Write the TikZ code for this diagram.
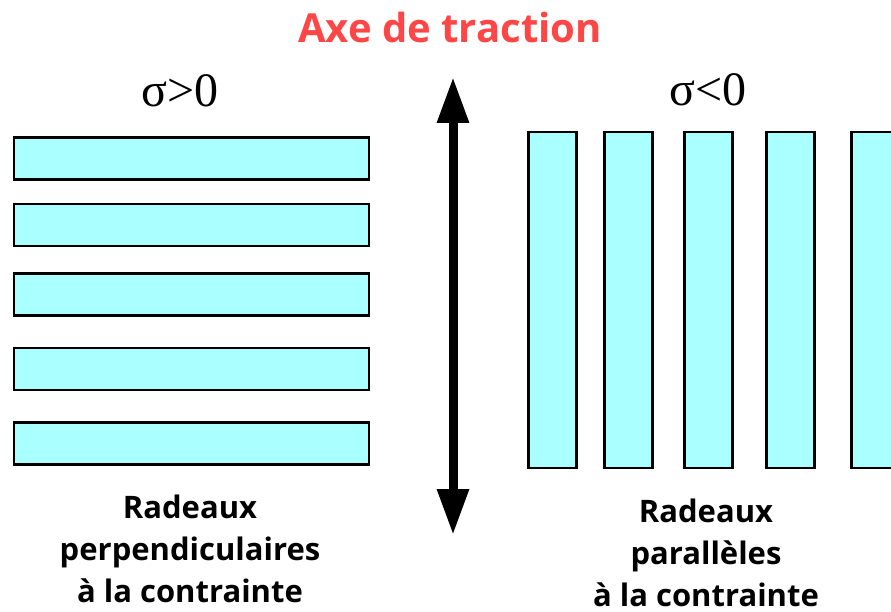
\documentclass[tikz,border=0pt]{standalone}
\usepackage{fontspec}
\setmainfont{Liberation Serif}
\newfontfamily\radeauxfont{Open Sans}
\usetikzlibrary{arrows.meta,positioning}
\definecolor{raftcyan}{HTML}{AAFFFF}
\definecolor{titlered}{HTML}{FF4646}

\begin{document}
\begin{tikzpicture}[x=1pt, y=-1pt,
        raft/.style={draw=black, line width=2.5pt, fill=raftcyan, inner sep=0pt},
        hraft/.style={raft, minimum width=355pt, minimum height=42pt},
        vraft/.style={raft, minimum width=48pt, minimum height=336pt},
        caption/.style={font=\radeauxfont\bfseries\fontsize{31}{42}\selectfont, align=center, anchor=base, inner sep=0pt},
        sigma/.style={font=\fontsize{48}{48}\selectfont, inner sep=0pt, anchor=base},
        axis/.style={{Triangle[width=30pt,length=46pt]}-{Triangle[width=30pt,length=46pt]}, line width=9pt},
    ]
        \useasboundingbox (0,0) rectangle (891,612);
        \clip (0,0) rectangle (891,612);

        % Title
        \node[font=\radeauxfont\bfseries\fontsize{40}{40}\selectfont, text=titlered, anchor=base, inner sep=0pt] (titre) at (450,43) {Axe de traction};

        % Stress signs
        \node[sigma] (sigmapos) at (180,107) {σ>0};
        \node[sigma] (sigmaneg) at (708,106) {σ<0};

        % Rafts perpendicular to the stress
        \foreach \y [count=\i] in {158.5, 225, 294.5, 369, 443.5} {
            \node[hraft] (hradeau-\i) at (191.5,\y) {};
        }

        % Rafts parallel to the stress
        \foreach \x [count=\i] in {552.5, 628.5, 708.5, 790.5, 875.5} {
            \node[vraft] (vradeau-\i) at (\x,300) {};
        }

        % Traction axis
        \coordinate (haut) at (453,77);
        \coordinate (bas) at (453,535);
        \draw[axis] (haut) -- (bas);

        % Captions (base = last line)
        \node[caption] (legendeperp) at (190,602) {Radeaux\\perpendiculaires\\à la contrainte};
        \node[caption] (legendepar) at (706,606) {Radeaux\\parallèles\\à la contrainte};
    \end{tikzpicture}
\end{document}
